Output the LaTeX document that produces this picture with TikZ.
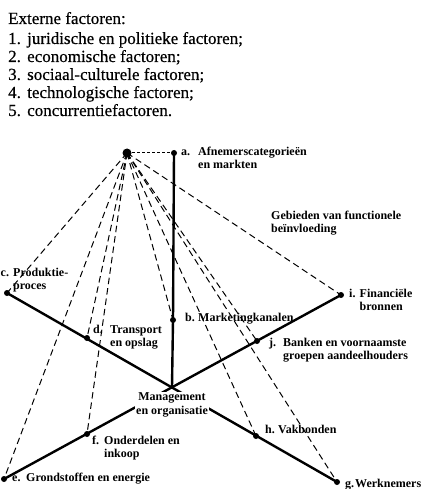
\documentclass[tikz,border=0pt]{standalone}
\usepackage{fontspec}
\setmainfont{Liberation Serif}
\newfontfamily\headfont[FakeBold=0.4]{Liberation Serif}
\newcommand\lettag[2]{\makebox[#1][l]{#2}}
\begin{document}
\begin{tikzpicture}[x=1pt,y=-1pt,
  dashline/.style={dash pattern=on 6.5pt off 4pt, line width=1pt},
  shortdash/.style={dash pattern=on 3pt off 2pt, line width=1pt},
  solidline/.style={line width=2.4pt},
  lbl/.style={font=\bfseries\fontsize{12}{13.5}\selectfont, anchor=west, inner sep=0pt, align=left},
  head/.style={font=\headfont\fontsize{17}{18}\selectfont, anchor=base west, inner sep=0pt},
]
\useasboundingbox (0,0) rectangle (424,489);

% heading
\node[head] (t0) at (8,24) {Externe factoren:};
\node[head] (t1) at (8,44) {\lettag{19pt}{1.}juridische en politieke factoren;};
\node[head] (t2) at (8,62) {\lettag{19pt}{2.}economische factoren;};
\node[head] (t3) at (8,80) {\lettag{19pt}{3.}sociaal-culturele factoren;};
\node[head] (t4) at (8,98) {\lettag{19pt}{4.}technologische factoren;};
\node[head] (t5) at (8,116) {\lettag{19pt}{5.}concurrentiefactoren.};

% points
\coordinate (A) at (127,153);
\coordinate (a) at (174,153);
\coordinate (b) at (173,320);
\coordinate (M) at (172,387);
\coordinate (c) at (7,293);
\coordinate (d) at (87,338);
\coordinate (e) at (4,479);
\coordinate (f) at (87,434);
\coordinate (g) at (337,482);
\coordinate (h) at (256,436);
\coordinate (i) at (341,295);
\coordinate (j) at (257,341);

% dashed influence lines
\draw[shortdash] (A) -- (a);
\foreach \p in {b,c,d,e,f,g,h,i,j} \draw[dashline] (A) -- (\p);

% solid lines
\draw[solidline] (a) -- (b) -- (M);
\draw[solidline] (c) -- (g);
\draw[solidline] (i) -- (e);

% dots
\fill (A) circle (4.5pt);
\foreach \p in {a,b,c,d,e,f,g,h,i,j} \fill (\p) circle (3pt);

% labels
\node[lbl] (la) at (181,158) {\lettag{17pt}{a.}Afnemerscategorieën\\\hspace*{17pt}en markten};
\node[lbl] (lgeb) at (271,223) {Gebieden van functionele\\beïnvloeding};
\node[lbl] (lc) at (0.5,280) {\lettag{12.5pt}{c.}Produktie-\\\hspace*{12.5pt}proces};
\node[lbl] (ld) at (93,337) {\lettag{17pt}{d.}Transport\\\hspace*{17pt}en opslag};
\node[lbl] (lb) at (185,319) {\lettag{13pt}{b.}Marketingkanalen};
\node[lbl] (li) at (349,300) {\lettag{10.5pt}{i.}Financiële\\\hspace*{10.5pt}bronnen};
\node[lbl] (lj) at (269,350) {\lettag{14pt}{j.}Banken en voornaamste\\\hspace*{14pt}groepen aandeelhouders};
\node[lbl] (lh) at (265,429) {\lettag{13pt}{h.}Vakbonden};
\node[lbl] (lf) at (92,448) {\lettag{12pt}{f.}Onderdelen en\\\hspace*{12pt}inkoop};
\node[lbl] (le) at (12,479) {\lettag{14pt}{e.}Grondstoffen en energie};
\node[lbl] (lg) at (345,485) {\lettag{10pt}{g.}Werknemers};
\node[lbl, anchor=center, align=center, fill=white, inner sep=1.5pt] (mg) at (172,405) {Management\\en organisatie};
\end{tikzpicture}
\end{document}
